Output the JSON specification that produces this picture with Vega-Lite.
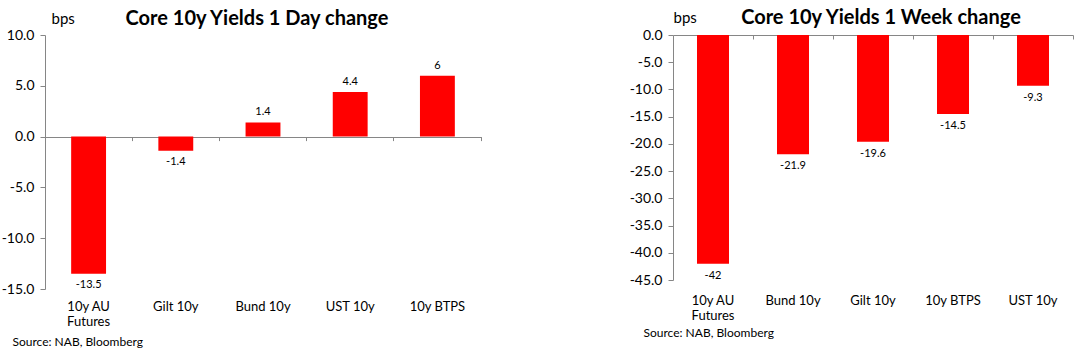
{
  "$schema": "https://vega.github.io/schema/vega-lite/v6.json",
  "padding": {"left": 1, "top": 8, "right": 10, "bottom": 2},
  "background": "white",
  "config": {
    "view": {"stroke": null},
    "font": "Lato",
    "locale": {"number": {"decimal": ".", "thousands": ",", "grouping": [3], "currency": ["$", ""], "minus": "-"}},
    "axis": {"labelColor": "#000000", "titleColor": "#000000", "domainColor": "#868686", "tickColor": "#868686", "grid": false},
    "axisY": {"labelOverlap": false},
    "concat": {"spacing": 147}
  },
  "datasets": {
    "day": [
      {"instrument": "10y AU Futures", "change": -13.5},
      {"instrument": "Gilt 10y", "change": -1.4},
      {"instrument": "Bund 10y", "change": 1.4},
      {"instrument": "UST 10y", "change": 4.4},
      {"instrument": "10y BTPS", "change": 6}
    ],
    "week": [
      {"instrument": "10y AU Futures", "change": -42},
      {"instrument": "Bund 10y", "change": -21.9},
      {"instrument": "Gilt 10y", "change": -19.6},
      {"instrument": "10y BTPS", "change": -14.5},
      {"instrument": "UST 10y", "change": -9.3}
    ]
  },
  "hconcat": [
    {
      "width": 436,
      "height": 254,
      "data": {"name": "day"},
      "title": {"text": "Core 10y Yields 1 Day change", "fontSize": 20, "fontWeight": "bold", "anchor": "middle", "offset": -18, "dx": -6, "color": "#000000"},
      "encoding": {
        "y": {"field": "change", "type": "quantitative",
          "scale": {"domain": [-15, 10], "nice": false},
          "axis": {"values": [-15, -10, -5, 0, 5, 10], "format": ".1f", "tickSize": 5, "labelFontSize": 14, "labelPadding": 6, "labelOverlap": false,
            "grid": true, "gridWidth": 1, "gridColor": {"condition": {"test": "datum.value === 0", "value": "#868686"}, "value": "transparent"},
            "title": "bps", "titleAngle": 0, "titleAlign": "left", "titleBaseline": "alphabetic", "titleX": 6, "titleY": -12, "titleFontSize": 15, "titleFontWeight": "normal"}}
      },
      "layer": [
        {
          "mark": {"type": "bar", "color": "#FF0000"},
          "encoding": {
            "x": {"field": "instrument", "type": "nominal", "sort": null,
              "scale": {"paddingInner": 0.6, "paddingOuter": 0.3},
              "axis": {"orient": "bottom", "domain": false, "ticks": false, "tickSize": 0, "labelPadding": 11, "labelAngle": 0, "labelFontSize": 13, "labelLineHeight": 15,
                "labelExpr": "datum.value == '10y AU Futures' ? ['10y AU', 'Futures'] : datum.value",
                "title": "Source: NAB, Bloomberg", "titleFontSize": 12, "titleFontWeight": "normal", "titleAnchor": "start", "titleAlign": "left", "titleX": -33, "titlePadding": 8}}
          }
        },
        {
          "transform": [{"filter": "datum.change >= 0"}],
          "mark": {"type": "text", "baseline": "bottom", "dy": -5, "fontSize": 11, "color": "#000000"},
          "encoding": {
            "x": {"field": "instrument", "type": "nominal", "sort": null,
              "axis": {"orient": "top", "offset": -101.6, "domain": false, "labels": false, "ticks": true, "tickSize": -4, "bandPosition": 1.75, "title": null}},
            "text": {"field": "change", "type": "nominal"}
          }
        },
        {
          "transform": [{"filter": "datum.change < 0"}],
          "mark": {"type": "text", "baseline": "top", "dy": 5, "fontSize": 11, "color": "#000000"},
          "encoding": {
            "x": {"field": "instrument", "type": "nominal", "sort": null, "axis": null},
            "text": {"field": "change", "type": "nominal"}
          }
        }
      ],
      "resolve": {"axis": {"x": "independent"}}
    },
    {
      "width": 400,
      "height": 245,
      "data": {"name": "week"},
      "title": {"text": "Core 10y Yields 1 Week change", "fontSize": 20, "fontWeight": "bold", "anchor": "middle", "offset": -18, "dx": 8, "color": "#000000"},
      "encoding": {
        "y": {"field": "change", "type": "quantitative",
          "scale": {"domain": [-45, 0], "nice": false},
          "axis": {"values": [-45, -40, -35, -30, -25, -20, -15, -10, -5, 0], "format": ".1f", "tickSize": 5, "labelFontSize": 14, "labelPadding": 6, "labelOverlap": false, "labelSeparation": -10,
            "grid": true, "gridWidth": 1, "gridColor": {"condition": {"test": "datum.value === 0", "value": "#868686"}, "value": "transparent"},
            "title": "bps", "titleAngle": 0, "titleAlign": "left", "titleBaseline": "alphabetic", "titleX": 0, "titleY": -13, "titleFontSize": 15, "titleFontWeight": "normal"}}
      },
      "layer": [
        {
          "mark": {"type": "bar", "color": "#FF0000"},
          "encoding": {
            "x": {"field": "instrument", "type": "nominal", "sort": null,
              "scale": {"paddingInner": 0.6, "paddingOuter": 0.3},
              "axis": {"orient": "bottom", "domain": false, "ticks": false, "tickSize": 0, "labelPadding": 14, "labelAngle": 0, "labelFontSize": 13, "labelLineHeight": 15,
                "labelExpr": "datum.value == '10y AU Futures' ? ['10y AU', 'Futures'] : datum.value",
                "title": "Source: NAB, Bloomberg", "titleFontSize": 12, "titleFontWeight": "normal", "titleAnchor": "start", "titleAlign": "left", "titleX": -30, "titlePadding": 5}}
          }
        },
        {
          "mark": {"type": "text", "baseline": "top", "dy": 6, "fontSize": 11, "color": "#000000"},
          "encoding": {
            "x": {"field": "instrument", "type": "nominal", "sort": null,
              "axis": {"orient": "top", "offset": 0, "domain": false, "labels": false, "ticks": true, "tickSize": -4, "bandPosition": 1.75, "title": null}},
            "text": {"field": "change", "type": "nominal"}
          }
        }
      ],
      "resolve": {"axis": {"x": "independent"}}
    }
  ]
}
